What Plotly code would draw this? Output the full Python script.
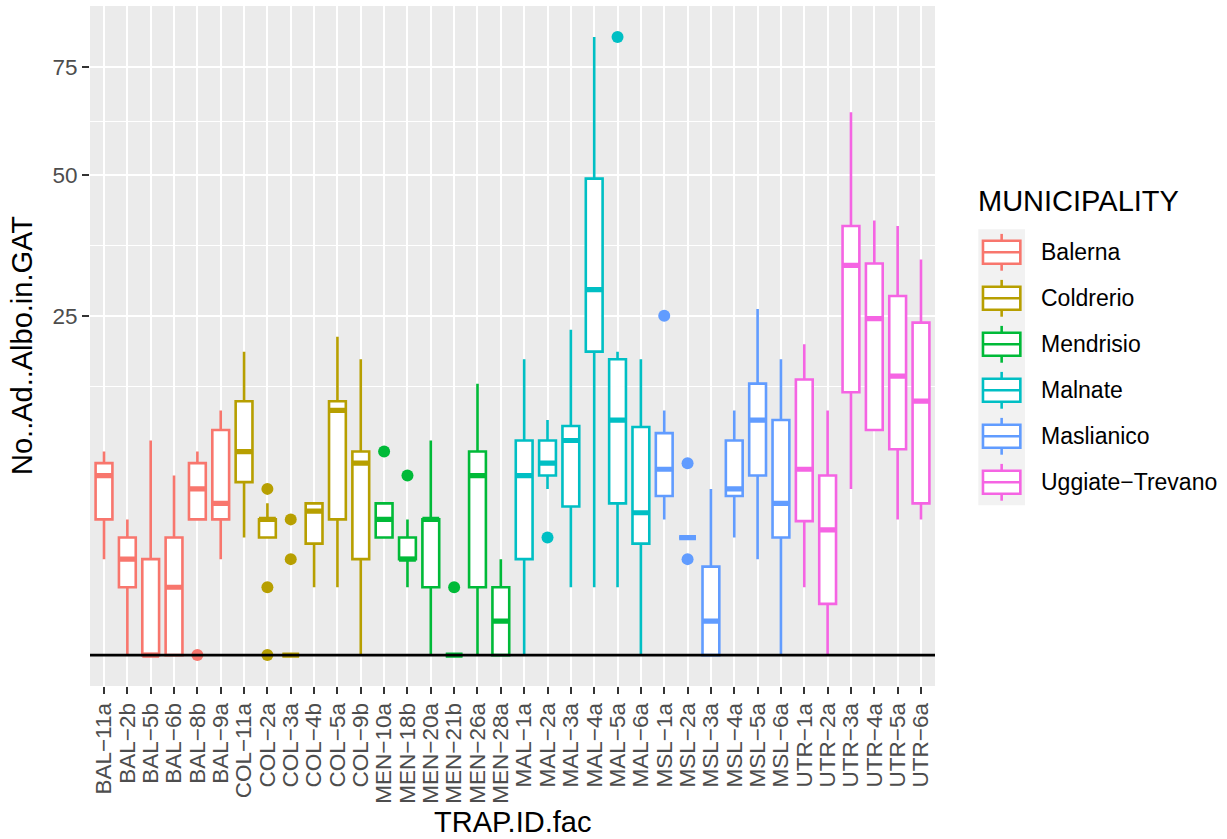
import numpy as np
import plotly.graph_objects as go

# ---- data -----------------------------------------------------------------
trap_ids = [
    "BAL-11a", "BAL-2b", "BAL-5b", "BAL-6b", "BAL-8b", "BAL-9a",
    "COL-11a", "COL-2a", "COL-3a", "COL-4b", "COL-5a", "COL-9b",
    "MEN-10a", "MEN-18b", "MEN-20a", "MEN-21b", "MEN-26a", "MEN-28a",
    "MAL-1a", "MAL-2a", "MAL-3a", "MAL-4a", "MAL-5a", "MAL-6a",
    "MSL-1a", "MSL-2a", "MSL-3a", "MSL-4a", "MSL-5a", "MSL-6a",
    "UTR-1a", "UTR-2a", "UTR-3a", "UTR-4a", "UTR-5a", "UTR-6a",
]

municipalities = ["Balerna", "Coldrerio", "Mendrisio", "Malnate", "Maslianico", "Uggiate-Trevano"]
municipality_codes = ["BAL", "COL", "MEN", "MAL", "MSL", "UTR"]
municipality_colors = ["#F8766D", "#B79F00", "#00BA38", "#00BFC4", "#619CFF", "#F564E3"]

# box statistics (adult Aedes albopictus per GAT trap)
lower_whisker = [2, 0, 0, 0, 4, 2,
                 3, 3, 0, 1, 1, 0,
                 3, 1, 0, 0, 0, 0,
                 0, 6, 1, 1, 1, 0,
                 4, 3, 0, 3, 2, 0,
                 1, 0, 6, 11, 4, 4]
q1 = [4, 1, 0, 0, 4, 4,
      6.5, 3, 0, 2.7, 4, 2,
      3, 2, 1, 0, 1, 0,
      2, 7, 4.8, 20, 5, 2.7,
      5.5, 3, 0, 5.5, 7, 3,
      3.9, 0.57, 15, 11, 9.2, 5]
median = [7, 2, 0, 1, 6, 5,
          9, 4, 0, 4.5, 13, 8,
          4, 2, 4, 0, 7, 0.25,
          7, 8, 10, 29, 12, 4.4,
          7.5, 3, 0.25, 6, 12, 5,
          7.5, 3.4, 33, 24.6, 16.9, 14]
q3 = [8, 3, 2, 3, 8, 11,
      14, 4, 0, 5, 14, 9,
      5, 3, 4, 0, 9, 1,
      10, 10, 11.4, 49.3, 19, 11.3,
      10.7, 3, 1.7, 10, 16, 12,
      16.5, 7, 40, 33.3, 28, 24]
upper_whisker = [9, 4, 10, 7, 9, 13,
                 20, 5, 0, 5, 22, 19,
                 5, 4, 10, 0, 16, 2,
                 19, 12, 23, 83, 20, 19,
                 13, 3, 6, 13, 26, 19,
                 21, 13, 64, 41, 40, 34]

outlier_traps = ["BAL-8b", "COL-2a", "COL-2a", "COL-2a", "COL-3a", "COL-3a",
                 "MEN-10a", "MEN-18b", "MEN-21b", "MAL-2a", "MAL-5a",
                 "MSL-1a", "MSL-2a", "MSL-2a"]
outlier_values = [0, 6, 1, 0, 4, 2,
                  9, 7, 1, 3, 83,
                  25, 8, 2]

y_breaks = [25, 50, 75]

# ---- helpers --------------------------------------------------------------
MINUS = "\u2212"
tick_labels = [t.replace("-", MINUS) for t in trap_ids]
legend_labels = [m.replace("-", MINUS) for m in municipalities]

def to_sqrt(v):
    return np.sqrt(np.asarray(v, dtype=float))

# sqrt-transformed scale with 5% expansion on each side
t_max = float(np.sqrt(max(max(upper_whisker), max(outlier_values))))
t_min = 0.0
pad = 0.05 * (t_max - t_min)
y_range = [t_min - pad, t_max + pad]

major_t = to_sqrt(y_breaks)
# minor breaks midway between majors (in transformed space), extended one step
step = major_t[1] - major_t[0]
ext = np.concatenate([[major_t[0] - step], major_t, [major_t[-1] + step]])
minor_t = [(a + b) / 2 for a, b in zip(ext[:-1], ext[1:])]
minor_t = [m for m in minor_t if y_range[0] < m < y_range[1]]

FONT = "Liberation Sans, Arial, Helvetica, sans-serif"
W, H = 1227, 839
ML, MR, MT, MB = 90, 292, 6, 153
PW, PH = W - ML - MR, H - MT - MB

def px_x(px):
    return (px - ML) / PW

def px_y(py):
    return (H - MB - py) / PH

BOX_W = 0.72
LINE_W = 2.6
TICK_SIZE = 22.5
TITLE_SIZE = 29

fig = go.Figure()

for code, name, col in zip(municipality_codes, municipalities, municipality_colors):
    idx = [i for i, t in enumerate(trap_ids) if t.startswith(code)]
    xs = [trap_ids[i] for i in idx]
    fig.add_trace(go.Box(
        x=xs,
        q1=to_sqrt([q1[i] for i in idx]),
        median=to_sqrt([median[i] for i in idx]),
        q3=to_sqrt([q3[i] for i in idx]),
        lowerfence=to_sqrt([lower_whisker[i] for i in idx]),
        upperfence=to_sqrt([upper_whisker[i] for i in idx]),
        width=BOX_W,
        fillcolor="white",
        line=dict(color=col, width=LINE_W),
        whiskerwidth=0,
        boxpoints=False,
        name=name,
        showlegend=False,
        hoverinfo="skip",
    ))
    # thicker median bar
    med = to_sqrt([median[i] for i in idx])
    fig.add_trace(go.Box(
        x=xs, q1=med, median=med, q3=med, lowerfence=med, upperfence=med,
        width=BOX_W,
        fillcolor="rgba(0,0,0,0)",
        line=dict(color=col, width=2 * LINE_W),
        whiskerwidth=0,
        boxpoints=False,
        showlegend=False,
        hoverinfo="skip",
    ))
    oi = [k for k, t in enumerate(outlier_traps) if t.startswith(code)]
    if oi:
        fig.add_trace(go.Scatter(
            x=[outlier_traps[k] for k in oi],
            y=to_sqrt([outlier_values[k] for k in oi]),
            mode="markers",
            marker=dict(color=col, size=12, line=dict(width=0)),
            showlegend=False,
            hoverinfo="skip",
        ))

shapes = []
# reference line at zero
shapes.append(dict(type="line", xref="paper", x0=0, x1=1, yref="y", y0=0, y1=0,
                   line=dict(color="black", width=2.6), layer="above"))

annotations = []
# legend drawn as boxplot keys
key_left, key_right = 978.3, 1025.0
key_top, key_h = 229.3, 46.0
shapes.append(dict(type="rect", xref="paper", yref="paper",
                   x0=px_x(key_left), x1=px_x(key_right),
                   y0=px_y(key_top + key_h * len(municipalities)), y1=px_y(key_top),
                   fillcolor="#F2F2F2", line=dict(width=0), layer="below"))
kw = key_right - key_left
for k, (lab, col) in enumerate(zip(legend_labels, municipality_colors)):
    top = key_top + k * key_h
    cx = key_left + kw / 2
    bx0, bx1 = key_left + 0.1 * kw, key_left + 0.9 * kw
    by0, by1 = top + 0.25 * key_h, top + 0.75 * key_h
    shapes.append(dict(type="line", xref="paper", yref="paper",
                       x0=px_x(cx), x1=px_x(cx), y0=px_y(top + 0.1 * key_h), y1=px_y(top + 0.9 * key_h),
                       line=dict(color=col, width=LINE_W)))
    shapes.append(dict(type="rect", xref="paper", yref="paper",
                       x0=px_x(bx0), x1=px_x(bx1), y0=px_y(by1), y1=px_y(by0),
                       fillcolor="white", line=dict(color=col, width=LINE_W)))
    shapes.append(dict(type="line", xref="paper", yref="paper",
                       x0=px_x(bx0), x1=px_x(bx1), y0=px_y(top + 0.5 * key_h), y1=px_y(top + 0.5 * key_h),
                       line=dict(color=col, width=LINE_W)))
    annotations.append(dict(text=lab, xref="paper", yref="paper",
                            x=px_x(1039), y=px_y(top + 0.5 * key_h),
                            xanchor="left", yanchor="middle", showarrow=False,
                            font=dict(family=FONT, size=23, color="black")))

annotations.append(dict(text="MUNICIPALITY", xref="paper", yref="paper",
                        x=px_x(976), y=px_y(201), xanchor="left", yanchor="middle",
                        showarrow=False, font=dict(family=FONT, size=TITLE_SIZE, color="black")))
annotations.append(dict(text="TRAP.ID.fac", xref="paper", yref="paper",
                        x=0.5, y=px_y(822), xanchor="center", yanchor="middle",
                        showarrow=False, font=dict(family=FONT, size=TITLE_SIZE, color="black")))
annotations.append(dict(text="No..Ad..Albo.in.GAT", xref="paper", yref="paper",
                        x=px_x(22), y=0.5, xanchor="center", yanchor="middle", textangle=-90,
                        showarrow=False, font=dict(family=FONT, size=TITLE_SIZE, color="black")))

fig.update_layout(
    width=W, height=H, autosize=False,
    margin=dict(l=ML, r=MR, t=MT, b=MB, pad=0),
    paper_bgcolor="white",
    plot_bgcolor="#EBEBEB",
    boxmode="overlay",
    showlegend=False,
    shapes=shapes,
    annotations=annotations,
    font=dict(family=FONT),
    xaxis=dict(
        type="category",
        categoryorder="array", categoryarray=trap_ids,
        tickmode="array", tickvals=trap_ids, ticktext=tick_labels,
        range=[-0.6, len(trap_ids) - 0.4],
        tickangle=-90,
        ticks="outside", ticklen=7, tickwidth=2.4, tickcolor="#333333",
        tickfont=dict(family=FONT, size=TICK_SIZE, color="#4D4D4D"),
        showgrid=True, gridcolor="white", gridwidth=2.4,
        zeroline=False, showline=False,
    ),
    yaxis=dict(
        range=y_range,
        tickmode="array", tickvals=list(major_t), ticktext=[str(b) for b in y_breaks],
        ticks="outside", ticklen=7, tickwidth=2.4, tickcolor="#333333",
        tickfont=dict(family=FONT, size=TICK_SIZE, color="#4D4D4D"),
        showgrid=True, gridcolor="white", gridwidth=2.4,
        minor=dict(tickmode="array", tickvals=minor_t, showgrid=True,
                   gridcolor="white", gridwidth=1.2, ticks=""),
        zeroline=False, showline=False,
    ),
)

fig.write_html("out.html", config={"displayModeBar": False})
